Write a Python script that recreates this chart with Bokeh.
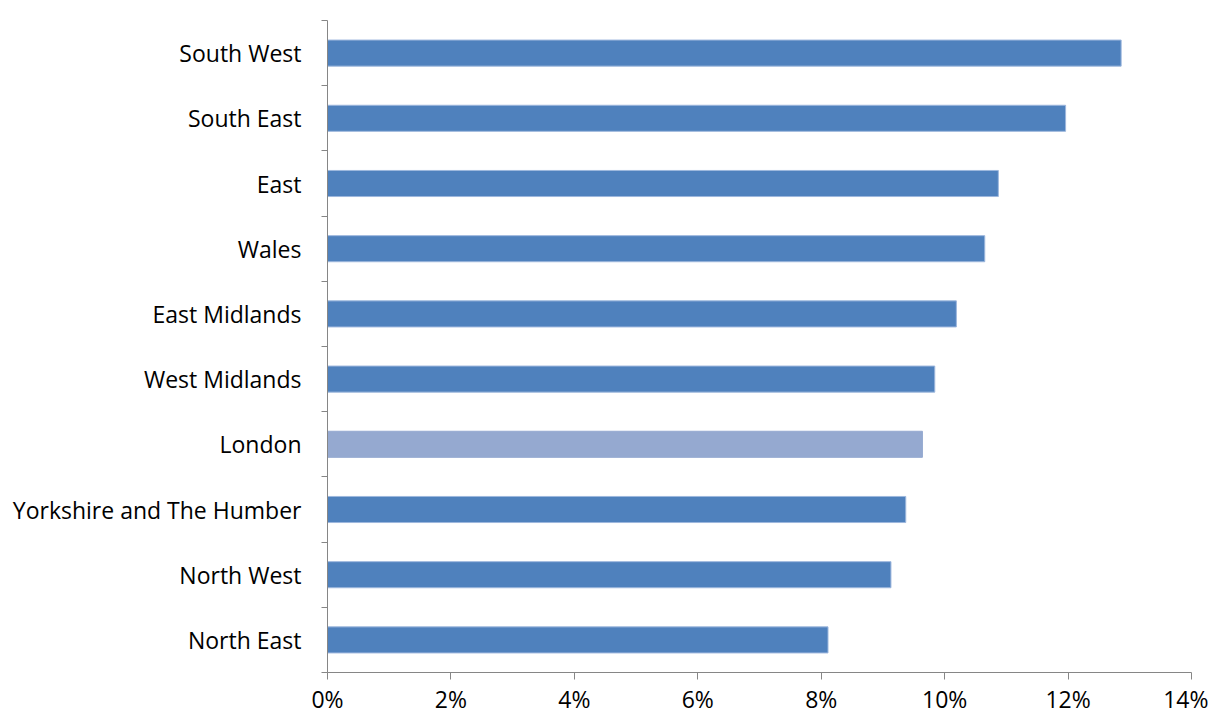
from bokeh.plotting import figure
from bokeh.models import ColumnDataSource, FixedTicker, NumeralTickFormatter, Range1d
from bokeh.embed import file_html
from bokeh.resources import INLINE

regions = ["North East", "North West", "Yorkshire and The Humber", "London",
           "West Midlands", "East Midlands", "Wales", "East", "South East", "South West"]
values = [0.0811, 0.0913, 0.0937, 0.0964, 0.0984, 0.1019, 0.1065, 0.1087, 0.1196, 0.1286]
colors = ["#4F81BD", "#4F81BD", "#4F81BD", "#95A9D0", "#4F81BD",
          "#4F81BD", "#4F81BD", "#4F81BD", "#4F81BD", "#4F81BD"]
edge_colors = ["#9DB7DD", "#9DB7DD", "#9DB7DD", "#95A9D0", "#9DB7DD",
               "#9DB7DD", "#9DB7DD", "#9DB7DD", "#9DB7DD", "#9DB7DD"]
x_ticks = [0, 0.02, 0.04, 0.06, 0.08, 0.10, 0.12, 0.14]

pos = [i + 0.5 for i in range(len(regions))]
src = ColumnDataSource(dict(y=pos, v=values, c=colors, e=edge_colors))

p = figure(width=1208, height=717, output_backend="svg", toolbar_location=None,
           x_range=Range1d(0, 0.14), y_range=Range1d(0, len(regions)),
           min_border_left=327, min_border_right=17, min_border_top=20, min_border_bottom=45)
p.hbar(y="y", left=0, right="v", height=0.4, source=src, fill_color="c", line_color="e", line_width=1)

p.xgrid.visible = False
p.ygrid.visible = False
p.outline_line_color = None

axis_col = "#868686"
font = "Open Sans"

xa = p.xaxis[0]
xa.ticker = FixedTicker(ticks=x_ticks)
xa.formatter = NumeralTickFormatter(format="0%")
xa.axis_line_color = axis_col
xa.major_tick_line_color = axis_col
xa.major_tick_out = 7
xa.major_tick_in = 0
xa.minor_tick_line_color = None
xa.major_label_text_font = font
xa.major_label_text_font_size = "23px"
xa.major_label_text_color = "#000000"
xa.major_label_standoff = 3

ya = p.yaxis[0]
ya.ticker = FixedTicker(ticks=pos, minor_ticks=list(range(len(regions) + 1)))
ya.major_label_overrides = {pos[i]: regions[i] for i in range(len(regions))}
ya.axis_line_color = axis_col
ya.major_tick_line_color = None
ya.major_tick_out = 0
ya.major_tick_in = 0
ya.minor_tick_line_color = axis_col
ya.minor_tick_out = 6
ya.minor_tick_in = 0
ya.major_label_text_font = font
ya.major_label_text_font_size = "23px"
ya.major_label_text_color = "#000000"
ya.major_label_standoff = 20

open("out.html", "w").write(file_html(p, INLINE))
